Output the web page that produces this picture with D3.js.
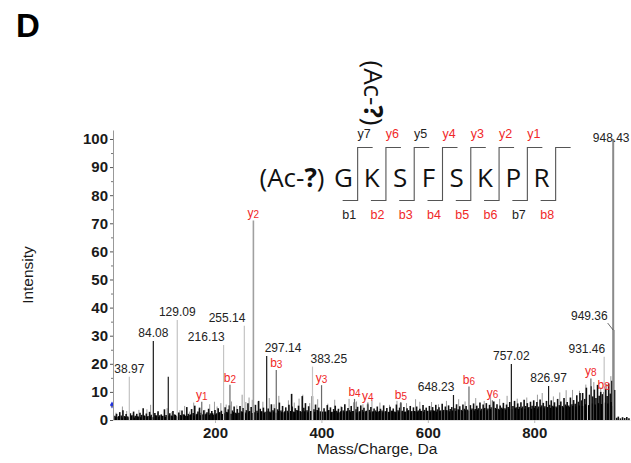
<!DOCTYPE html>
<html>
<head>
<meta charset="utf-8">
<script src="https://cdn.jsdelivr.net/npm/d3@7"></script>
<style>
  body { margin: 0; background: #fff; }
  text { font-family: "Liberation Sans", Arial, sans-serif; }
  .seq text.big { font-family: "Open Sans", "Liberation Sans", sans-serif; }
</style>
</head>
<body>
<script>

const W = 631;
const H = 463;

// labelled peaks
const peakMz = [38.97, 84.08, 112.2, 129.09, 216.13, 255.14, 297.14, 383.25, 648.23, 757.02, 826.97, 931.46, 949.36, 948.43];
const peakInt = [15.4, 28.1, 15.4, 35.6, 26.7, 33.5, 22.8, 19.0, 8.9, 19.9, 12.1, 22.5, 32, 100];
const peakText = ["38.97", "84.08", "", "129.09", "216.13", "255.14", "297.14", "383.25", "648.23", "757.02", "826.97", "931.46", "949.36", "948.43"];

// matched fragment ions
const ionName = ["y1", "b2", "y2", "b3", "y3", "b4", "y4", "b5", "b6", "y6", "y8", "b8"];
const ionMz = [175.12, 228.13, 272.17, 315.16, 400.27, 462.23, 487.3, 549.26, 677.35, 721.4, 906.5, 930.4];
const ionInt = [6.5, 12.5, 71, 17.8, 12.4, 7.5, 6.2, 6.4, 11.9, 7.0, 14.8, 10.0];

// other small peaks (dark)
const noiseDark = [[12,1.5],[15,2.2],[18,1.2],[21,2.8],[24,1.6],[27,3.5],[30,1.4],[33,2.1],[36,1.3],[41,2.4],[44,1.7],[47,3.0],[50,1.5],[53,2.2],[56,1.2],[59,2.6],[62,1.8],[65,4.2],[68,1.5],[71,2.3],[74,1.4],[77,2.9],[80,1.9],[87,2.5],[90,1.6],[93,3.1],[96,1.7],[99,2.0],
[102,1.5],[105,3.8],[108,1.8],[115,2.4],[118,1.6],[121,3.2],[124,2.0],[127,1.5],[132,2.7],[135,1.8],[138,3.4],[141,2.0],[144,1.5],[147,4.6],[150,2.2],[153,1.8],[156,3.9],[159,2.5],[162,5.1],[165,2.0],[168,3.0],[171,4.4],[174,2.6],[179,3.5],[182,2.0],[185,2.8],[188,4.0],[191,2.4],[194,3.2],[197,1.9],
[200,3.6],[203,2.4],[206,4.2],[209,2.8],[212,3.3],[219,4.5],[222,2.9],[225,3.8],[227,5.2],[233,3.4],[236,4.8],[239,2.6],[242,3.9],[247,5.0],[250,3.1],[253,4.3],[256,2.8],[259,3.5],[262,6.0],[265,3.2],[268,4.6],[276,5.4],[279,3.3],[282,6.8],[285,4.0],[288,3.1],[291,4.4],[294,2.9],[300,4.1],
[303,3.0],[306,5.6],[309,3.5],[312,4.2],[318,3.8],[321,6.2],[324,3.4],[327,5.0],[330,2.8],[333,4.5],[336,3.3],[339,5.4],[344,9.3],[345,4.8],[348,3.0],[351,4.2],[354,3.6],[357,5.1],[360,3.2],[364,8.5],[367,4.4],[370,6.0],[373,3.5],[376,4.9],[383,8.5],[386,3.8],[389,5.5],[392,3.6],[395,4.4],[398,3.1],
[405,4.2],[408,3.0],[411,5.3],[414,3.6],[417,4.5],[420,2.9],[423,3.9],[426,5.1],[429,3.3],[432,4.0],[435,2.8],[438,4.6],[441,3.4],[444,5.6],[447,3.1],[450,4.3],[453,3.5],[456,5.0],[459,3.2],[462,6.3],[465,3.8],[468,4.7],[471,3.0],[474,5.2],[477,3.6],[480,4.4],[483,3.1],[487,5.6],[490,3.6],[493,4.6],[496,3.0],[499,4.1],
[502,3.4],[505,4.8],[508,3.0],[511,4.0],[514,3.4],[517,5.2],[520,3.1],[523,4.3],[526,2.9],[529,4.7],[532,3.3],[535,4.1],[538,3.0],[541,5.5],[544,3.5],[547,4.4],[549,6.0],[552,3.3],[555,4.6],[558,3.0],[561,4.2],[564,3.5],[567,5.0],[570,3.2],[573,4.5],[576,3.1],[579,4.8],[582,3.4],[585,4.0],[588,3.2],[591,5.3],[594,3.6],[597,4.4],
[600,3.3],[603,5.0],[606,3.5],[609,4.6],[612,3.3],[615,5.4],[618,3.8],[621,4.5],[624,3.4],[627,5.8],[630,3.6],[633,4.8],[636,3.5],[639,5.2],[642,3.9],[645,4.6],[651,4.2],[654,5.6],[657,3.8],[660,4.9],[663,3.6],[666,5.5],[669,4.0],[672,5.0],[675,3.7],[680,5.3],[683,4.1],[686,5.9],[689,3.9],[692,5.1],[695,4.2],[698,6.2],
[701,4.0],[704,5.5],[707,4.3],[710,6.0],[713,4.1],[716,5.4],[719,4.5],[724,6.6],[727,4.3],[730,5.6],[733,4.0],[736,5.2],[739,4.4],[742,6.1],[745,4.2],[748,5.5],[751,4.6],[754,6.4],[760,5.0],[763,6.8],[766,4.5],[769,5.9],[772,4.7],[775,6.3],[778,4.8],[781,7.2],[784,5.0],[787,6.0],[790,4.6],[793,6.5],[796,5.1],[799,7.0],
[802,5.0],[805,6.4],[808,4.8],[811,7.3],[814,5.2],[817,6.1],[820,4.9],[823,6.8],[829,5.4],[832,7.0],[835,5.1],[838,6.3],[841,4.8],[844,7.5],[847,5.3],[850,6.6],[853,5.0],[856,7.8],[859,5.5],[862,6.4],[865,5.2],[868,8.0],[871,5.6],[874,7.1],[877,5.8],[880,8.8],[883,6.5],[886,9.6],[889,7.0],[891,9.6],[895,7.5],[898,11.5],[904,9.0],[907,12.0],[910,8.4],[913,10.8],[916,7.8],[919,12.5],[922,8.6],[925,10.0],[928,9.2],[934,11.0],[937,8.5],[940,13.0],[943,9.4],[946,14.0],[951,10.7],
[955,0.8],[958,1.2],[962,0.6],[966,1.0],[970,0.7],[974,1.1],[978,0.6]];

// baseline clutter (dark, low)
const floorDark = [[13.5,1.0],[19.5,1.4],[25.5,0.9],[31.5,1.2],[38,1.0],[42.5,1.5],[48.5,0.9],[54.5,1.3],[60.5,1.0],[66.5,1.6],[72.5,1.1],[78.5,1.3],[84,1.0],[88.5,1.7],[94.5,1.2],[100.5,1.4],[106.5,1.1],[113,1.6],[119.5,1.3],[125.5,1.8],[130,1.2],[136.5,1.6],[142.5,1.9],[148.5,1.4],[154.5,2.0],[160.5,1.5],[166.5,2.2],[172.5,1.7],[177,2.0],[183.5,2.3],[189.5,1.8],[195.5,2.4],[201.5,2.0],[207.5,2.6],[213.5,2.1],[217,2.4],[223.5,2.7],[230,2.2],[234.5,2.8],[240.5,2.3],[245,2.6],[251.5,2.9],[257.5,2.4],[263.5,3.0],[270,2.5],[273.5,2.8],[280.5,2.6],[286.5,3.0],[292.5,2.5],[297.5,3.1],[304.5,2.7],[310.5,3.0],[315.5,2.6],[319.5,3.2],[325.5,2.8],[331.5,3.1],[337.5,2.7],[342.5,3.2],[349.5,2.8],[355.5,3.3],[361.5,2.9],[368.5,3.1],[374.5,2.8],[380,3.2],[387.5,2.9],[393.5,3.3],[399.5,2.8],[402,3.0],[406.5,2.9],[412.5,3.3],[418.5,2.8],[424.5,3.2],[430.5,2.7],[436.5,3.1],[442.5,2.8],[448.5,3.3],[454.5,2.9],[460.5,3.2],[466.5,2.7],[472.5,3.1],[478.5,2.9],[484.5,3.3],[491.5,2.8],[497.5,3.1],[503.5,2.9],[509.5,3.2],[515.5,2.8],[521.5,3.1],[527.5,2.9],[533.5,3.3],[539.5,2.8],[545.5,3.0],[550.5,3.1],[556.5,2.9],[562.5,3.3],[568.5,2.8],[574.5,3.2],[580.5,3.0],[586.5,3.3],[592.5,2.9],[598.5,3.2],[604.5,3.0],[610.5,3.4],[616.5,3.0],[622.5,3.3],[628.5,3.1],[634.5,3.5],[640.5,3.1],[646.5,3.4],[652.5,3.2],[658.5,3.6],[664.5,3.2],[670.5,3.5],[676.5,3.3],[681.5,3.6],[687.5,3.4],[693.5,3.7],[699.5,3.4],[705.5,3.8],[711.5,3.5],[717.5,3.9],[721,3.6],[728.5,3.9],[734.5,3.6],[740.5,4.0],[746.5,3.7],[752.5,4.1],[757.5,3.8],[764.5,4.2],[770.5,3.9],[776.5,4.2],[782.5,4.0],[788.5,4.3],[794.5,4.0],[800.5,4.4],[806.5,4.1],[812.5,4.5],[818.5,4.2],[824.5,4.6],[830.5,4.3],[836.5,4.7],[842.5,4.4],[848.5,4.8],[854.5,4.5],[860.5,4.9],[866.5,4.6],[872.5,5.0],[878.5,4.8],[884.5,5.2],[890.5,5.0],[896.5,5.6],[902.5,5.3],[908.5,5.9],[914.5,5.5],[920.5,6.0],[926.5,5.7],[932.5,6.2],[938.5,5.9],[944.5,6.4],[948,5.0]];

// other small peaks (light)
const noiseLight = [[14,2.6],[26,4.8],[34,3.2],[46,2.4],[57,3.6],[63,2.0],[72,3.8],[79,5.4],[92,2.5],[110,4.2],[119,2.8],[134,3.5],[143,5.0],[152,3.0],[160,6.2],[170,4.0],[181,3.6],[190,5.6],[199,6.5],[204,4.8],[211,6.0],[221,5.5],[231,6.6],[241,5.2],[251,9.0],[258,6.4],[264,8.0],[270,7.2],[281,6.5],[290,6.5],[302,7.8],[311,5.6],[320,8.6],[338,7.0],[349,6.2],[358,7.6],[365,9.0],[378,6.0],[393,7.4],[412,5.8],[425,7.2],[437,5.0],[452,7.5],[466,6.6],[478,5.6],[495,7.0],[510,6.2],[528,5.4],[542,6.8],[560,6.0],[577,7.4],[585,6.5],[607,6.4],[620,5.6],[635,6.8],[658,7.4],[670,6.6],[690,7.8],[706,6.8],[718,8.4],[735,7.5],[749,8.6],[768,7.6],[786,8.0],[806,9.0],[815,9.6],[836,8.4],[848,9.8],[860,10.6],[872,10.7],[885,10.4],[897,12.6],[912,13.5],[925,11.6],[936,12.8],[944,15.6]];

// peptide
const residues = ["G", "K", "S", "F", "S", "K", "P", "R"];
const yIons = ["y7", "y6", "y5", "y4", "y3", "y2", "y1"];
const yFound = [false, true, false, true, true, true, true];
const bIons = ["b1", "b2", "b3", "b4", "b5", "b6", "b7", "b8"];
const bFound = [false, true, true, true, true, true, false, true];

const RED = "#f02828";

const svg = d3.select("body")
.append("svg")
.attr("width", W)
.attr("height", H);

svg.append("rect").attr("width", W).attr("height", H).attr("fill", "#fff");

const xScale = d3.scaleLinear()
.domain([8.3, 980])
.range([113, 630]);

const yScale = d3.scaleLinear()
.domain([0, 103.2])
.range([420, 130]);

const spec = svg.append("g");

function sticks(data, cls, color, width) {
  spec.selectAll("line." + cls)
  .data(data)
  .enter()
  .append("line")
  .attr("class", cls)
  .attr("x1", d => xScale(d[0])).attr("x2", d => xScale(d[0]))
  .attr("y1", yScale(0)).attr("y2", d => yScale(d[1]))
  .attr("stroke", color)
  .attr("stroke-width", width);
}

sticks(noiseLight, "nl", "#9a9a9a", 1);
sticks(noiseDark, "nd", "#111", 1.6);
sticks(floorDark, "nf", "#000", 1.6);

// ion peaks
spec.selectAll("line.ion")
.data(ionMz)
.enter()
.append("line")
.attr("class", "ion")
.attr("x1", d => xScale(d)).attr("x2", d => xScale(d))
.attr("y1", yScale(0)).attr("y2", (d, i) => yScale(ionInt[i]))
.attr("stroke", (d, i) => ionName[i] === "y2" ? "#a0a0a0" : "#6a6a6a")
.attr("stroke-width", (d, i) => ionName[i] === "y2" ? 1.6 : 1.2);

// labelled peaks
const lightPk = new Set(["38.97", "129.09", "216.13", "255.14", "383.25", "931.46", "948.43"]);
spec.selectAll("line.pk")
.data(peakMz)
.enter()
.append("line")
.attr("class", "pk")
.attr("x1", d => xScale(d)).attr("x2", d => xScale(d))
.attr("y1", yScale(0)).attr("y2", (d, i) => yScale(peakInt[i]))
.attr("stroke", (d, i) => peakText[i] === "948.43" ? "#8a8a8a" : lightPk.has(peakText[i]) ? "#c4c4c4" : "#1a1a1a")
.attr("stroke-width", (d, i) => peakText[i] === "948.43" ? 2 : 1.2);

// peak labels
const endAnchor = new Set(["216.13", "255.14", "648.23", "931.46", "949.36"]);
const startAnchor = new Set(["297.14", "383.25"]);
peakText.forEach((t, i) => {
  if (!t) return;
  const px = xScale(peakMz[i]);
  const py = yScale(peakInt[i]);
  let x = px, anchor = "middle", y = py - 4;
  if (endAnchor.has(t)) { anchor = "end"; x = px + 1; }
  if (startAnchor.has(t)) { anchor = "start"; x = px - 2; }
  if (t === "949.36") { x = px - 6; y = py - 10.5; }
  if (t === "948.43") { x = px - 2; y = py + 3.5; }
  spec.append("text")
  .text(t)
  .attr("x", x)
  .attr("y", y)
  .attr("text-anchor", anchor)
  .attr("font-size", 12)
  .attr("fill", "#222");
  if (t === "949.36") {
    spec.append("line")
    .attr("x1", px - 6).attr("y1", py - 7)
    .attr("x2", px - 0.5).attr("y2", py)
    .attr("stroke", "#444").attr("stroke-width", 0.8);
  }
});

// ion labels
ionName.forEach((n, i) => {
  const t = spec.append("text")
  .attr("x", xScale(ionMz[i]))
  .attr("y", yScale(ionInt[i]) - 3)
  .attr("text-anchor", "middle")
  .attr("font-size", 12)
  .attr("fill", RED);
  t.append("tspan").text(n[0]);
  t.append("tspan").text(n.slice(1)).attr("font-size", 10).attr("dy", 1);
});

// precursor marker
svg.append("path")
.attr("d", d3.symbol(d3.symbolDiamond, 14)())
.attr("transform", `translate(${xScale(8.3) - 1},${yScale(5.3)})`)
.attr("fill", "#2233dd");

// axes
const yAxis = d3.axisLeft(yScale)
.tickValues(d3.range(0, 101, 10))
.tickSize(3)
.tickSizeOuter(0)
.tickPadding(2);

const yg = svg.append("g")
.attr("transform", `translate(113,0)`)
.call(yAxis);
yg.select(".domain").attr("stroke", "#999");
yg.selectAll(".tick line").attr("stroke", "#555");
yg.selectAll("text")
.attr("font-size", 15)
.attr("font-weight", "bold")
.attr("fill", "#1a1a1a")
.attr("font-family", "'Liberation Sans', Arial, sans-serif");

svg.append("g")
.attr("transform", `translate(113,0)`)
.call(d3.axisLeft(yScale).tickValues(d3.range(5, 100, 10)).tickSize(2).tickFormat(""))
.call(g => g.select(".domain").remove())
.selectAll(".tick line").attr("stroke", "#777");

const xAxis = d3.axisBottom(xScale)
.tickValues([200, 400, 600, 800])
.tickSize(3)
.tickSizeOuter(0)
.tickPadding(4);

const xg = svg.append("g")
.attr("transform", `translate(0,420)`)
.call(xAxis);
xg.select(".domain").attr("stroke", "#ddd");
xg.selectAll(".tick line").attr("stroke", "#bbb");
xg.selectAll("text")
.attr("font-size", 15)
.attr("font-weight", "bold")
.attr("fill", "#1a1a1a")
.attr("font-family", "'Liberation Sans', Arial, sans-serif");

svg.append("text")
.text("Mass/Charge, Da")
.attr("x", 377)
.attr("y", 454)
.attr("text-anchor", "middle")
.attr("font-size", 15.5)
.attr("fill", "#1a1a1a");

svg.append("text")
.text("Intensity")
.attr("transform", `translate(33,275) rotate(-90)`)
.attr("text-anchor", "middle")
.attr("font-size", 15.5)
.attr("fill", "#1a1a1a");

svg.append("text")
.text("D")
.attr("x", 16)
.attr("y", 37)
.attr("font-size", 33)
.attr("font-weight", "bold")
.attr("fill", "#000");

// peptide sequence
const seq = svg.append("g").attr("class", "seq");
const sx = d3.scaleLinear().domain([0, 7]).range([343.5, 541.5]);
const topY = 147.5, botY = 200.5;

seq.selectAll("text.res")
.data(residues)
.enter()
.append("text")
.attr("class", "big res")
.text(d => d)
.attr("x", (d, i) => sx(i))
.attr("y", 187)
.attr("text-anchor", "middle")
.attr("font-size", 26)
.attr("fill", "#111");

const ac = seq.append("text")
.attr("class", "big")
.attr("x", 292)
.attr("y", 187)
.attr("text-anchor", "middle")
.attr("font-size", 26)
.attr("fill", "#111");
ac.append("tspan").text("(Ac-");
ac.append("tspan").text("?").attr("font-weight", "bold");
ac.append("tspan").text(")");

const acR = seq.append("text")
.attr("class", "big")
.attr("transform", `translate(364,93) rotate(90)`)
.attr("text-anchor", "middle")
.attr("font-size", 26)
.attr("fill", "#111");
acR.append("tspan").text("(Ac-");
acR.append("tspan").text("?").attr("font-weight", "bold");
acR.append("tspan").text(")");

bIons.forEach((b, i) => {
  const bx = sx(i + 0.5);
  seq.append("path")
  .attr("d", `M${bx - 15},${botY}H${bx}V${topY}H${bx + 15}`)
  .attr("fill", "none")
  .attr("stroke", "#555")
  .attr("stroke-width", 1.1);
  seq.append("text")
  .text(b)
  .attr("x", bx - 8.5)
  .attr("y", 218.5)
  .attr("text-anchor", "middle")
  .attr("font-size", 12.5)
  .attr("fill", bFound[i] ? RED : "#222");
});

yIons.forEach((y, i) => {
  const bx = sx(i + 0.5);
  seq.append("text")
  .text(y)
  .attr("x", bx + 6.5)
  .attr("y", 137.5)
  .attr("text-anchor", "middle")
  .attr("font-size", 12.5)
  .attr("fill", yFound[i] ? RED : "#222");
});

</script>
</body>
</html>
